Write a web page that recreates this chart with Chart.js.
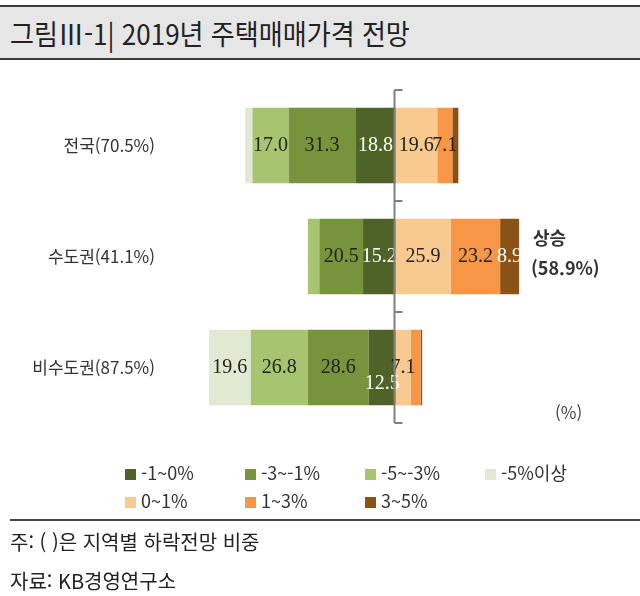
<!DOCTYPE html>
<html lang="ko">
<head>
<meta charset="utf-8">
<script src="https://cdn.jsdelivr.net/npm/chart.js@4.4.1/dist/chart.umd.min.js"></script>
<style>
  html, body { margin: 0; padding: 0; background: #fff; }
  body { width: 640px; height: 596px; position: relative; overflow: hidden;
         font-family: "Noto Sans CJK KR", "Noto Sans", sans-serif; color: #333; }
  #titleBar { position: absolute; left: 0; top: 5px; width: 640px; height: 51px;
              background: #e6e6e6; border-top: 2px solid #3a3a3a; border-bottom: 2px solid #3a3a3a; }
  #titleBar span { position: absolute; left: 10px; top: 6px; font-size: 28px; color: #222;
                   transform: scaleX(0.93); transform-origin: left center; white-space: nowrap; }
  #wrap { position: absolute; left: 0; top: 0; width: 640px; height: 596px; }
  .txt { position: absolute; white-space: nowrap; }
  .leg { position: absolute; font-size: 18px; color: #333; white-space: nowrap; }
  .leg i { display: inline-block; width: 11px; height: 11px; margin-right: 5px; vertical-align: 0px; }
  #footLine { position: absolute; left: 10px; top: 519px; width: 630px; border-top: 2px solid #444; }
</style>
</head>
<body>
<div id="titleBar"><span>그림Ⅲ-1| 2019년 주택매매가격 전망</span></div>
<div id="wrap"><canvas id="grafico"></canvas></div>
<div class="txt" style="left:533px; top:224px; font-size:18px; font-weight:bold; color:#333;">상승</div>
<div class="txt" style="left:531px; top:254px; font-size:18px; font-weight:bold; color:#333;">(58.9%)</div>
<div class="txt" style="left:555px; top:399px; font-size:17px; color:#444;">(%)</div>
<div id="leyenda"></div>
<div id="footLine"></div>
<div class="txt" style="left:10px; top:527px; font-size:20px; color:#222;">주: ( )은 지역별 하락전망 비중</div>
<div class="txt" style="left:10px; top:566px; font-size:20px; color:#222;">자료: KB경영연구소</div>

<script>
const regiones = ['전국(70.5%)', '수도권(41.1%)', '비수도권(87.5%)'];

// 하락 (왼쪽, 0에서 가까운 순)
const baja1a0 = [18.8, 15.2, 12.5];   // -1~0%
const baja3a1 = [31.3, 20.5, 28.6];   // -3~-1%
const baja5a3 = [17.0, 5.4, 26.8];    // -5~-3%
const baja5mas = [3.4, 0, 19.6];      // -5%이상

// 상승 (오른쪽)
const sube0a1 = [19.6, 25.9, 7.1];    // 0~1%
const sube1a3 = [7.1, 23.2, 4.7];     // 1~3%
const sube3a5 = [2.8, 8.9, 0.7];      // 3~5%

const etiquetas = ['-1~0%', '-3~-1%', '-5~-3%', '-5%이상', '0~1%', '1~3%', '3~5%'];
const colores = ['#4f6228', '#77933c', '#a7c471', '#e1e9d3', '#f9ca90', '#f79646', '#8a5214'];
const colorTexto = ['#ffffff', '#222222', '#222222', '#222222', '#222222', '#222222', '#ffffff'];

const series = [
  baja1a0.map(v => -v), baja3a1.map(v => -v), baja5a3.map(v => -v), baja5mas.map(v => -v),
  sube0a1, sube1a3, sube3a5
];

// 값 라벨
const etiquetasValor = {
  id: 'etiquetasValor',
  afterDatasetsDraw(chart) {
    const ctx = chart.ctx;
    ctx.save();
    ctx.font = '20px "Liberation Serif", "DejaVu Serif", serif';
    ctx.textAlign = 'center';
    ctx.textBaseline = 'middle';
    chart.data.datasets.forEach((ds, i) => {
      chart.getDatasetMeta(i).data.forEach((bar, j) => {
        const v = Math.abs(ds.data[j]);
        if (v < 6) return;
        const x = (bar.x + bar.base) / 2;
        let y = bar.y;
        if (i === 0 && j === 2) y += 16; // 12.5 는 원본처럼 아래로
        ctx.fillStyle = colorTexto[i];
        ctx.fillText(v.toFixed(1), x, y);
      });
    });
    ctx.restore();
  }
};

// 0 기준선과 눈금
const ejeCero = {
  id: 'ejeCero',
  afterDatasetsDraw(chart) {
    const ctx = chart.ctx;
    const x0 = Math.round(chart.scales.x.getPixelForValue(0)) - 0.5;
    const { top, bottom } = chart.chartArea;
    const paso = (bottom - top) / regiones.length;
    ctx.save();
    ctx.strokeStyle = '#808080';
    ctx.lineWidth = 2;
    ctx.beginPath();
    ctx.moveTo(x0, top);
    ctx.lineTo(x0, bottom);
    for (let k = 0; k <= regiones.length; k++) {
      const y = top + k * paso;
      ctx.moveTo(x0, y);
      ctx.lineTo(x0 + 8, y);
    }
    ctx.stroke();
    ctx.restore();
  }
};

new Chart(document.getElementById('grafico'), {
  type: 'bar',
  data: {
    labels: regiones,
    datasets: series.map((d, i) => ({
      label: etiquetas[i],
      data: d,
      backgroundColor: colores[i],
      borderWidth: 0,
      barPercentage: 0.68,
      categoryPercentage: 1
    }))
  },
  options: {
    indexAxis: 'y',
    responsive: true,
    maintainAspectRatio: false,
    animation: false,
    layout: { padding: { top: 90, bottom: 173, left: 0, right: 74 } },
    plugins: {
      legend: { display: false },
      tooltip: { enabled: false }
    },
    scales: {
      x: {
        stacked: true,
        min: -110,
        max: 80,
        display: false
      },
      y: {
        stacked: true,
        grid: { display: false, drawTicks: false },
        border: { display: false },
        ticks: {
          padding: 6,
          color: '#333',
          font: { family: '"Noto Sans CJK KR", sans-serif', size: 17 }
        },
        afterFit(scale) { scale.width = 161; }
      }
    }
  },
  plugins: [etiquetasValor, ejeCero]
});

// 범례
const leyenda = document.getElementById('leyenda');
etiquetas.forEach((t, i) => {
  const d = document.createElement('div');
  d.className = 'leg';
  d.style.left = (125 + (i % 4) * 120) + 'px';
  d.style.top = (459 + Math.floor(i / 4) * 28) + 'px';
  d.innerHTML = '<i style="background:' + colores[i] + '"></i>' + t;
  leyenda.appendChild(d);
});
</script>
</body>
</html>
